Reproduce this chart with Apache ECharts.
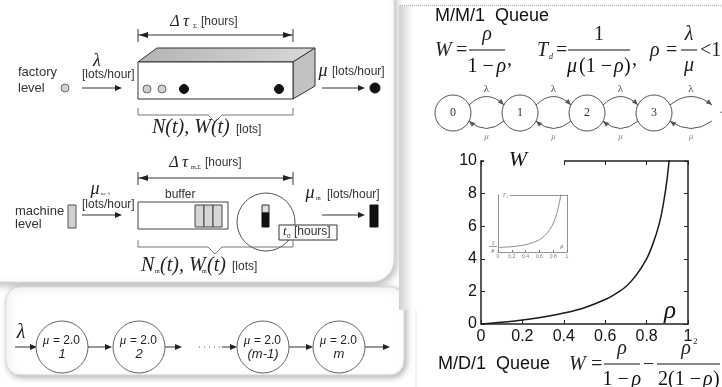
<!DOCTYPE html>
<html>
<head>
<meta charset="utf-8">
<script src="https://cdn.jsdelivr.net/npm/echarts@6/dist/echarts.min.js"></script>
<style>
  html, body { margin: 0; padding: 0; background: #fff; }
  #chart { width: 722px; height: 387px; }
</style>
</head>
<body>
<div id="chart"></div>
<script>
// W against rho for the M/M/1 queue
var rhoMain = [0, 0.1, 0.2, 0.3, 0.4, 0.5, 0.6, 0.65, 0.7, 0.75, 0.8, 0.83, 0.86, 0.88, 0.9, 0.92];
var wMain   = [0, 0.11, 0.25, 0.43, 0.67, 1.0, 1.5, 1.85, 2.3, 3.0, 4.0, 4.9, 6.1, 7.3, 9.0, 11.5];
// small inset: T against rho
var rhoInset = [0, 0.1, 0.2, 0.3, 0.4, 0.5, 0.6, 0.65, 0.7, 0.75, 0.8, 0.85, 0.9, 0.93];
var tInset   = [1.1, 1.2, 1.3, 1.5, 1.8, 2.3, 3.0, 3.6, 4.4, 5.5, 7.0, 9.3, 13.0, 16.0];
// labels of the diagrams
var chainStates = ['0', '1', '2', '3'];
var lineStations = ['1', '2', '(m-1)', 'm'];
var stationRate = '2.0';

var SANS = '"Liberation Sans", Arial, sans-serif';
var SERIF = '"Liberation Serif", "Times New Roman", serif';

var G = [];
function line(x1, y1, x2, y2, w, c, dash) {
  G.push({type: 'line', z: 5, shape: {x1: x1, y1: y1, x2: x2, y2: y2},
    style: {stroke: c || '#333', lineWidth: w || 1, lineDash: dash || null}});
}
function head(x, y, ang, c, L, H) {
  L = L || 7; H = H || 3;
  var bx = x - L * Math.cos(ang), by = y - L * Math.sin(ang);
  var px = -Math.sin(ang) * H, py = Math.cos(ang) * H;
  G.push({type: 'polygon', z: 5, shape: {points: [[x, y], [bx + px, by + py], [bx - px, by - py]]},
    style: {fill: c || '#222'}});
}
function arrow(x1, y, x2, c) { line(x1, y, x2 - 5, y, 1, c || '#333'); head(x2, y, 0, c || '#222'); }
function circ(cx, cy, r, fill, stroke, w) {
  G.push({type: 'circle', z: 5, shape: {cx: cx, cy: cy, r: r},
    style: {fill: fill || '#fff', stroke: stroke || '#555', lineWidth: w || 1}});
}
function rect(x, y, w, h, fill, stroke, r, extra) {
  var st = {fill: fill || '#fff', stroke: stroke || null, lineWidth: 1};
  if (extra) for (var k in extra) st[k] = extra[k];
  G.push({type: 'rect', z: extra && extra.z != null ? extra.z : 5, shape: {x: x, y: y, width: w, height: h, r: r || 0}, style: st});
}
function poly(pts, fill, stroke) {
  G.push({type: 'polygon', z: 5, shape: {points: pts}, style: {fill: fill, stroke: stroke || '#333', lineWidth: 1}});
}
function curve(x1, y1, cx, cy, x2, y2, c) {
  G.push({type: 'bezierCurve', z: 5, shape: {x1: x1, y1: y1, cpx1: cx, cpy1: cy, x2: x2, y2: y2},
    style: {stroke: c || '#555', lineWidth: 1, fill: null}});
  head(x2, y2, Math.atan2(y2 - cy, x2 - cx), c || '#444', 6, 2.5);
}
function txt(s, x, y, font, align, color, z) {
  G.push({type: 'text', x: x, y: y, z: z || 6, style: {text: s, font: font, fill: color || '#222',
    textAlign: align || 'left', textVerticalAlign: 'middle', align: align || 'left', verticalAlign: 'middle'}});
}
function bracket(x1, x2, y, cx) {
  var c = '#777';
  line(x1, y - 7, x1, y, 1, c); line(x1, y, cx - 7, y, 1, c);
  line(cx - 7, y, cx, y + 7, 1, c); line(cx, y + 7, cx + 7, y, 1, c);
  line(cx + 7, y, x2, y, 1, c); line(x2, y, x2, y - 7, 1, c);
}
function span(x1, x2, y) {
  line(x1, y, x2, y, 1, '#333');
  head(x1 + 1, y, Math.PI, '#222', 9, 3); head(x2 - 1, y, 0, '#222', 9, 3);
  line(x1, y - 6, x1, y + 7, 1, '#333'); line(x2, y - 6, x2, y + 7, 1, '#333');
}
function it(size) { return 'italic ' + size + 'px ' + SERIF; }
function up(size) { return size + 'px ' + SERIF; }
function sans(size) { return size + 'px ' + SANS; }
// pieces of a formula laid out left to right: [text, italic?, width]
function mathRow(pieces, cx, y, size) {
  var total = 0;
  pieces.forEach(function (p) { total += p[2]; });
  var x = cx - total / 2;
  pieces.forEach(function (p) {
    txt(p[0], x, y, p[1] ? it(size) : up(size), 'left', '#111');
    x += p[2];
  });
}

// ---------- panels ----------
rect(-20, -20, 414, 302, '#fff', '#dcdcdc', 22,
  {shadowBlur: 8, shadowColor: 'rgba(0,0,0,0.28)', shadowOffsetX: 2, shadowOffsetY: 3, z: -1});
rect(6, 287, 398, 88, '#fff', '#d8d8d8', 14,
  {shadowBlur: 6, shadowColor: 'rgba(0,0,0,0.3)', shadowOffsetX: 2, shadowOffsetY: 2, z: -1});
G.push({type: 'rect', z: -1, shape: {x: 399, y: 6, width: 14, height: 304},
  style: {fill: new echarts.graphic.LinearGradient(0, 0, 1, 0,
    [{offset: 0, color: '#cfcfcf'}, {offset: 1, color: '#ffffff'}])}});
line(400, 5.5, 722, 5.5, 1, '#aaa', [1, 1]);
line(416, 310, 416, 387, 1, '#e6e6e6');

// ---------- factory level ----------
txt('factory', 18, 72, sans(13), 'left', '#333');
txt('level', 18, 88, sans(13), 'left', '#333');
circ(65, 88, 4, '#d0d0d0', '#666');
txt('λ', 97, 61, it(18), 'center');
txt('[lots/hour]', 82, 75, sans(12), 'left', '#333');
arrow(82, 88, 122);
txt('Δ', 175, 22, it(16), 'center');
txt('τ', 186, 22, it(17), 'center');
txt('Σ', 193, 26, up(7), 'left');
txt('[hours]', 201, 22, sans(12), 'left', '#333');
span(138, 293, 35);
poly([[138, 62], [157, 48], [315, 48], [293, 62]],
  new echarts.graphic.LinearGradient(0, 0, 1, 0, [{offset: 0, color: '#b4b4b4'}, {offset: 1, color: '#d8d8d8'}]));
poly([[293, 62], [315, 48], [315, 86], [293, 99]], '#c2c2c2');
rect(138, 62, 155, 37, '#fff', '#333');
circ(147, 89, 4, '#d0d0d0', '#666');
circ(162, 89, 4, '#d0d0d0', '#666');
circ(184, 89, 4.5, '#111', '#111');
circ(279, 89, 4.5, '#111', '#111');
txt('μ', 323, 71, it(18), 'center');
txt('[lots/hour]', 332, 72, sans(12), 'left', '#333');
arrow(322, 88, 365);
circ(375, 88, 5, '#111', '#111');
bracket(138, 293, 115, 215);
txt('N(t), W(t)', 152, 128, it(20), 'left');
txt('[lots]', 236, 130, sans(12), 'left', '#333');

// ---------- machine level ----------
txt('Δ', 174, 163, it(16), 'center');
txt('τ', 185, 163, it(17), 'center');
txt('m,Σ', 191, 167, up(6), 'left');
txt('[hours]', 205, 163, sans(12), 'left', '#333');
span(138, 293, 178);
txt('μ', 95, 189, it(18), 'center');
txt('m−1', 101, 194, up(5), 'left');
txt('[lots/hour]', 82, 205, sans(12), 'left', '#333');
txt('machine', 15, 211, sans(13), 'left', '#333');
txt('level', 15, 224, sans(13), 'left', '#333');
rect(68, 205, 8, 23, '#d0d0d0', '#555');
arrow(82, 215, 122);
txt('buffer', 165, 195, sans(12), 'left', '#333');
rect(138, 202, 90, 27, '#fff', '#444');
rect(195, 205, 9, 22, '#d6d6d6', '#444');
rect(204, 205, 9, 22, '#d6d6d6', '#444');
rect(213, 205, 9, 22, '#d6d6d6', '#444');
circ(266, 222, 29, '#fff', '#555');
rect(262, 205, 7, 8, '#ddd', '#333');
rect(262, 213, 7, 14, '#111', '#111');
rect(279, 225, 58, 15, '#fff', '#333');
txt('t', 283, 232, it(13), 'left');
txt('0', 287, 236, up(7), 'left');
txt('[hours]', 294, 232, sans(12), 'left', '#333');
txt('μ', 310, 193, it(18), 'center');
txt('m', 316, 198, up(6), 'left');
txt('[lots/hour]', 327, 195, sans(12), 'left', '#333');
arrow(322, 215, 365);
rect(370, 205, 8, 22, '#111', '#111');
bracket(138, 293, 247, 215);
txt('N', 141, 266, it(20), 'left');
txt('m', 155, 271, up(6), 'left');
txt('(t), W', 160, 266, it(20), 'left');
txt('m', 202, 271, up(6), 'left');
txt('(t)', 207, 266, it(20), 'left');
txt('[lots]', 232, 267, sans(12), 'left', '#333');

// ---------- tandem line ----------
txt('λ', 21, 333, it(20), 'center');
arrow(15, 347, 37);
var stationX = [62, 139, 263, 339];
stationX.forEach(function (cx, i) {
  circ(cx, 347, 26, '#fff', '#666');
  txt('μ', cx - 16, 341, it(13), 'center');
  txt('= ' + stationRate, cx - 9, 341, sans(12), 'left', '#222');
  txt(lineStations[i], cx, 354, 'italic 13px ' + SANS, 'center');
});
arrow(88, 347, 112);
arrow(165, 347, 182);
line(199, 347, 222, 347, 1, '#555', [1, 4]);
arrow(222, 347, 237);
arrow(289, 347, 313);
arrow(365, 347, 390);

// ---------- M/M/1 header ----------
txt('M/M/1  Queue', 435, 16, sans(18), 'left', '#111');
txt('W', 435, 51, it(20), 'left');
txt('=', 456, 51, up(20), 'left');
line(469, 50, 505, 50, 1, '#111');
txt('ρ', 487, 35, it(20), 'center');
mathRow([['1 −', false, 29], ['ρ', true, 10]], 487, 67, 20);
txt(',', 507, 60, up(20), 'left');
txt('T', 537, 51, it(20), 'left');
txt('d', 549, 57, it(8), 'left');
txt('=', 556, 51, up(20), 'left');
line(568, 50, 630, 50, 1, '#111');
txt('1', 599, 35, up(20), 'center');
mathRow([['μ', true, 12], ['(1 −', false, 35], ['ρ', true, 10], [')', false, 7]], 599, 67, 20);
txt(',', 632, 60, up(20), 'left');
txt('ρ', 650, 51, it(20), 'left');
txt('=', 666, 51, up(20), 'left');
line(681, 50, 697, 50, 1, '#111');
txt('λ', 689, 35, it(20), 'center');
txt('μ', 689, 66, it(20), 'center');
txt('<1', 700, 51, up(20), 'left');

var chainX = [453, 520, 587, 654];
chainX.forEach(function (cx, i) {
  circ(cx, 113, 18, '#fff', '#555');
  txt(chainStates[i], cx, 113, up(12), 'center', '#333');
  var nx = i < chainX.length - 1 ? chainX[i + 1] - 16 : 712;
  var mid = (cx + 16 + nx) / 2;
  curve(cx + 16, 105, mid, 88, nx, 105, '#555');
  curve(nx, 121, mid, 136, cx + 16, 121, '#555');
  txt('λ', mid, 89, up(11), 'center', '#444');
  txt('μ', mid, 137, it(9), 'center', '#888');
});
txt('·', 721, 113, up(12), 'center', '#555');

// ---------- plot labels ----------
rect(484, 155, 80, 11, '#fff', null, 0, {z: 50});
txt('W', 518, 160, it(22), 'center', '#111', 51);
txt('ρ', 670, 311, it(25), 'center', '#111');
rect(499, 191, 11, 8, '#fff', null, 0, {z: 50});
txt('T', 504, 195, it(6), 'center', '#777', 51);
txt('s', 507, 197, up(3), 'left', '#777', 51);
txt('1', 493, 243, up(6), 'center', '#555');
line(489, 246.5, 497, 246.5, 0.6, '#555');
txt('μ', 493, 250, it(6), 'center', '#555');
txt('ρ', 562, 246, it(6), 'center', '#666');

// ---------- M/D/1 footer ----------
txt('M/D/1  Queue', 438, 364, sans(18), 'left', '#111');
txt('W', 569, 365, it(20), 'left');
txt('=', 591, 365, up(20), 'left');
line(604, 364, 640, 364, 1, '#111');
txt('ρ', 622, 349, it(20), 'center');
mathRow([['1 −', false, 29], ['ρ', true, 10]], 622, 380, 20);
txt('−', 643, 365, up(20), 'left');
line(657, 364, 720, 364, 1, '#111');
txt('ρ', 686, 349, it(20), 'center');
txt('2', 693, 342, up(9), 'left');
mathRow([['2(1 −', false, 45], ['ρ', true, 10], [')', false, 7]], 689, 380, 20);

var axisDark = {show: true, onZero: false, lineStyle: {color: '#222', width: 1.5}};
var axisGray = {show: true, onZero: false, lineStyle: {color: '#777', width: 0.8}};

var chart = echarts.init(document.getElementById('chart'));
chart.setOption({
  animation: false,
  backgroundColor: '#fff',
  grid: [
    {left: 481, top: 161, width: 207, height: 163},
    {left: 498, top: 195, width: 69, height: 57}
  ],
  xAxis: [
    {gridIndex: 0, type: 'value', min: 0, max: 1, interval: 0.2, axisLine: axisDark,
      axisTick: {inside: true, length: 4, lineStyle: {color: '#222'}},
      axisLabel: {color: '#111', fontSize: 16, fontFamily: SANS, margin: 5}, splitLine: {show: false}},
    {gridIndex: 0, type: 'value', position: 'top', min: 0, max: 1, interval: 0.2, axisLine: axisDark,
      axisTick: {inside: true, length: 4, lineStyle: {color: '#222'}},
      axisLabel: {show: false}, splitLine: {show: false}},
    {gridIndex: 1, type: 'value', min: 0, max: 1, interval: 0.2, axisLine: axisGray,
      axisTick: {inside: true, length: 2, lineStyle: {color: '#777'}},
      axisLabel: {color: '#777', fontSize: 5, fontFamily: SANS, margin: 2}, splitLine: {show: false}},
    {gridIndex: 1, type: 'value', position: 'top', min: 0, max: 1, axisLine: axisGray,
      axisTick: {show: false}, axisLabel: {show: false}, splitLine: {show: false}}
  ],
  yAxis: [
    {gridIndex: 0, type: 'value', min: 0, max: 10, interval: 2, axisLine: axisDark,
      axisTick: {inside: true, length: 4, lineStyle: {color: '#222'}},
      axisLabel: {color: '#111', fontSize: 16, fontFamily: SANS, margin: 4}, splitLine: {show: false}},
    {gridIndex: 0, type: 'value', position: 'right', min: 0, max: 10, interval: 2, axisLine: axisDark,
      axisTick: {inside: true, length: 4, lineStyle: {color: '#222'}},
      axisLabel: {show: false}, splitLine: {show: false}},
    {gridIndex: 1, type: 'value', min: 0, max: 14, axisLine: axisGray,
      axisTick: {show: false}, axisLabel: {show: false}, splitLine: {show: false}},
    {gridIndex: 1, type: 'value', position: 'right', min: 0, max: 14, axisLine: axisGray,
      axisTick: {show: false}, axisLabel: {show: false}, splitLine: {show: false}}
  ],
  series: [
    {type: 'line', xAxisIndex: 0, yAxisIndex: 0, showSymbol: false, smooth: 0.3, clip: true,
      lineStyle: {color: '#1a1a1a', width: 1.5},
      data: rhoMain.map(function (r, i) { return [r, wMain[i]]; })},
    {type: 'line', xAxisIndex: 2, yAxisIndex: 2, showSymbol: false, smooth: 0.3, clip: true,
      lineStyle: {color: '#8c8c8c', width: 1},
      data: rhoInset.map(function (r, i) { return [r, tInset[i]]; })}
  ],
  graphic: {elements: G}
});
</script>
</body>
</html>
